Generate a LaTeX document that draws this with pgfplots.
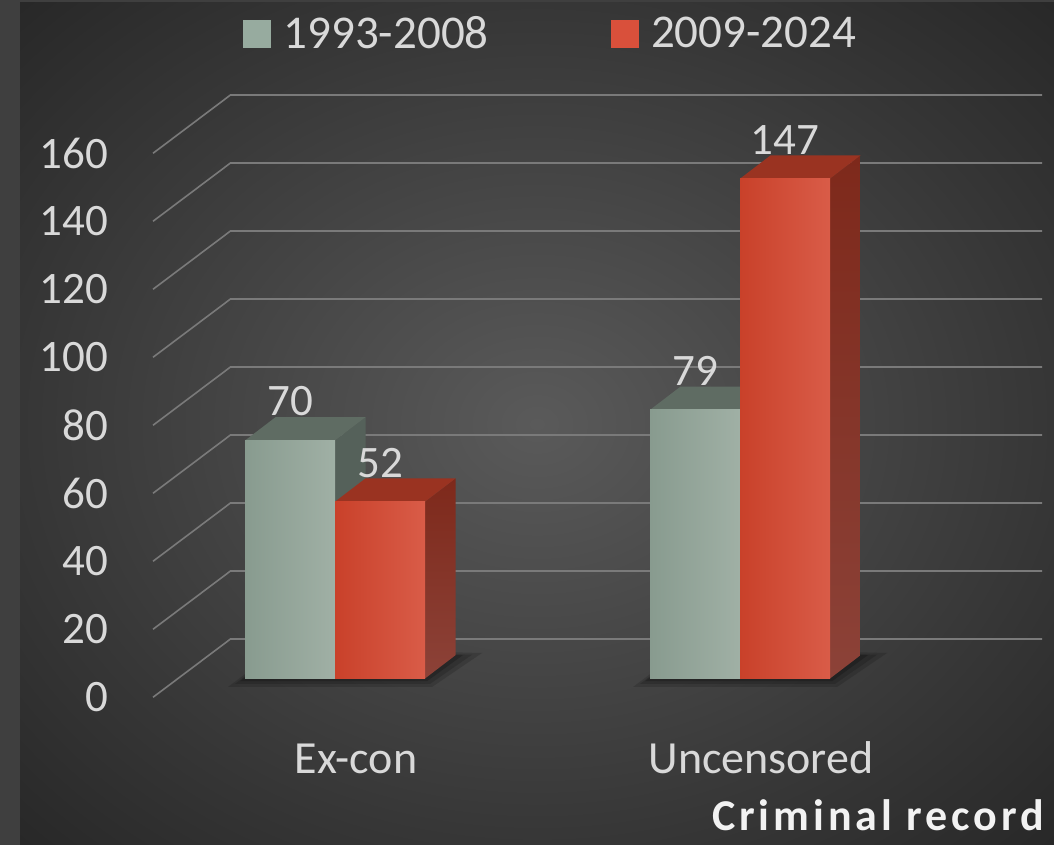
\documentclass[border=0pt]{standalone}
\usepackage{pgfplots}
\pgfplotsset{compat=1.18}
\usepackage{fontspec}
\setmainfont{Carlito}
\newfontfamily\titlefont[LetterSpace=9]{Carlito}

\definecolor{stripc}{HTML}{3F3F3F}
\definecolor{bgA}{HTML}{5A5A5A}
\definecolor{bgB}{HTML}{363636}
\definecolor{bgC}{HTML}{272727}
\definecolor{gridc}{HTML}{7A7A7A}
\definecolor{labc}{HTML}{D9D9D9}
\definecolor{titc}{HTML}{F2F2F2}
\definecolor{gfl}{HTML}{889B8F}
\definecolor{gfr}{HTML}{A0B0A5}
\definecolor{gtop}{HTML}{5F6C63}
\definecolor{gside}{HTML}{55615A}
\definecolor{rfl}{HTML}{C9412A}
\definecolor{rfr}{HTML}{D95C48}
\definecolor{rtop}{HTML}{9A3321}
\definecolor{rsidet}{HTML}{7E291B}
\definecolor{rsideb}{HTML}{8C4238}
\definecolor{gleg}{HTML}{97AB9F}
\definecolor{rleg}{HTML}{D9503B}

\pgfdeclareradialshading{bgshade}{\pgfpoint{0bp}{0bp}}{color(0bp)=(bgA); color(25bp)=(bgB); color(36bp)=(bgC); color(50bp)=(bgC)}

\begin{document}
\begin{tikzpicture}[x=1pt,y=1pt]
\useasboundingbox (0,0) rectangle (1054,845);
\fill[stripc] (0,0) rectangle (1054,845);
\shade[shading=bgshade] (20,0) rectangle (1054,842);
\begin{axis}[
  at={(0,0)}, anchor=south west,
  scale only axis, width=1054pt, height=845pt,
  xmin=0, xmax=1054, ymin=-48.97, ymax=199.56,
  axis line style={draw=none}, major tick length=0pt,
  /pgf/number format/assume math mode=true,
  ytick={0,20,...,160},
  yticklabel style={font=\fontsize{45}{54}\selectfont, text=labc, anchor=east, inner sep=0pt, xshift=108.5pt, yshift=-18.8pt},
  xtick={356,761},
  xticklabels={Ex-con,Uncensored},
  xticklabel style={font=\fontsize{46}{55}\selectfont, text=labc, anchor=base, inner sep=0pt, yshift=71pt},
  legend columns=2,
  legend style={at={(0.2306,0.9806)}, anchor=north west, draw=none, fill=none, inner sep=0pt,
    font=\fontsize{47}{56}\selectfont, text=labc, nodes={inner sep=0pt, yshift=15pt},
    /tikz/every odd column/.append style={column sep=13pt},
    /tikz/every even column/.append style={column sep=122pt}},
]
\addlegendimage{legend image code/.code={\fill[gleg] (0pt,1pt) rectangle (27pt,28pt);}}
\addlegendentry{1993-2008}
\addlegendimage{legend image code/.code={\fill[rleg] (0pt,1pt) rectangle (27pt,28pt);}}
\addlegendentry{2009-2024}

% gridlines: front edge, diagonal to back wall, back wall
\pgfplotsinvokeforeach{0,20,...,160}{
  \addplot[gridc, line width=1.6pt] table[row sep=\\, y expr=\thisrow{d}+#1] {x d\\153 -5.53\\230.5 11.62\\1042 11.62\\};
}

% soft shadows on the floor
\addplot[fill=black, fill opacity=0.15, draw=none] coordinates {(228,-2.5) (432,-2.5) (482,7.5) (280,9)};
\addplot[fill=black, fill opacity=0.15, draw=none] coordinates {(235,-1.6) (430,-1.6) (472,7) (280,8.5)};
\addplot[fill=black, fill opacity=0.2, draw=none] coordinates {(240,-0.8) (427,-0.8) (463,6.9) (280,8)};
\addplot[fill=black, fill opacity=0.15, draw=none] coordinates {(633,-2.5) (837,-2.5) (887,7.5) (685,9)};
\addplot[fill=black, fill opacity=0.15, draw=none] coordinates {(640,-1.6) (835,-1.6) (877,7) (685,8.5)};
\addplot[fill=black, fill opacity=0.2, draw=none] coordinates {(645,-0.8) (832,-0.8) (868,6.9) (685,8)};

% 1993-2008 : sides and tops
\addplot[fill=gside, draw=none] coordinates {(335,0) (335,70) (365.5,76.85) (365.5,6.85)};
\addplot[fill=gtop, draw=none] coordinates {(245,70) (335,70) (365.5,76.85) (275.5,76.85)};
\addplot[fill=gside, draw=none] coordinates {(740,0) (740,79) (770.5,85.85) (770.5,6.85)};
\addplot[fill=gtop, draw=none] coordinates {(650,79) (740,79) (770.5,85.85) (680.5,85.85)};
% 1993-2008 : fronts
\addplot[ybar, bar width=90, bar shift=0pt, draw=none, left color=gfl, right color=gfr] coordinates {(290,70)};
\addplot[ybar, bar width=90, bar shift=0pt, draw=none, left color=gfl, right color=gfr] coordinates {(695,79)};

% 2009-2024 : sides and tops
\addplot[draw=none, top color=rsidet, bottom color=rsideb] coordinates {(425,0) (425,52) (455.5,58.85) (455.5,6.85)};
\addplot[fill=rtop, draw=none] coordinates {(335,52) (425,52) (455.5,58.85) (365.5,58.85)};
\addplot[draw=none, top color=rsidet, bottom color=rsideb] coordinates {(830,0) (830,147) (860.5,153.85) (860.5,6.85)};
\addplot[fill=rtop, draw=none] coordinates {(740,147) (830,147) (860.5,153.85) (770.5,153.85)};
% 2009-2024 : fronts
\addplot[ybar, bar width=90, bar shift=0pt, draw=none, left color=rfl, right color=rfr] coordinates {(380,52)};
\addplot[ybar, bar width=90, bar shift=0pt, draw=none, left color=rfl, right color=rfr] coordinates {(785,147)};

% value labels
\addplot[draw=none, mark=none, nodes near coords,
  nodes near coords style={font=\fontsize{45}{54}\selectfont, text=labc, anchor=center, inner sep=0pt, yshift=39pt}]
  coordinates {(290,70) (380,52) (695,79) (785,147)};

\node[anchor=base east, inner sep=0pt, text=titc, font=\titlefont\bfseries\fontsize{44}{53}\selectfont] at (axis cs:1044,-44.85) {Criminal record};
\end{axis}
\end{tikzpicture}
\end{document}
